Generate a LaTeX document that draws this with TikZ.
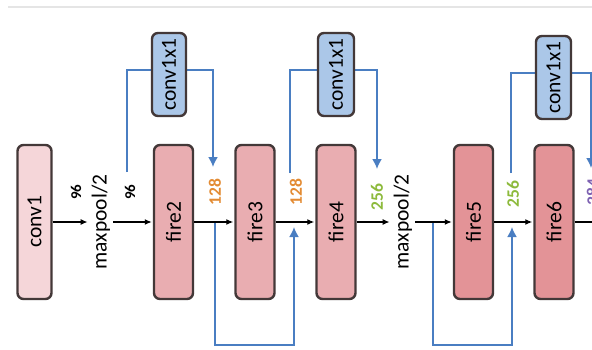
\documentclass[tikz,border=0pt]{standalone}
\usepackage{fontspec}
\setmainfont{Carlito}
\usetikzlibrary{arrows.meta,backgrounds}
\definecolor{bordc}{HTML}{433838}
\definecolor{cone}{HTML}{F5D6D9}
\definecolor{cfire}{HTML}{E9ADB1}
\definecolor{cfirex}{HTML}{E39397}
\definecolor{cblue}{HTML}{ABC7E8}
\definecolor{lblue}{HTML}{4A7EC2}
\definecolor{corange}{HTML}{E38B33}
\definecolor{cgreen}{HTML}{8DBA3C}
\definecolor{cpurple}{HTML}{7E62B2}
\begin{document}
\begin{tikzpicture}[x=1pt,y=-1pt,
  blk/.style={draw=bordc, line width=2.4pt, rounded corners=6pt, inner sep=0pt,
    rotate=90, font=\fontsize{21.5}{24}\selectfont},
  mainblk/.style={blk, minimum width=154pt, minimum height=39pt},
  cxblk/.style={blk, fill=cblue, minimum width=83pt, minimum height=34pt},
  mp/.style={rotate=90, inner sep=3pt, font=\fontsize{21.5}{24}\selectfont},
  num/.style={rotate=90, inner sep=1pt, font=\bfseries\fontsize{15}{17}\selectfont},
  cnum/.style={rotate=90, inner sep=1pt, font=\bfseries\fontsize{17.5}{19}\selectfont},
  ar/.style={line width=1.3pt, -{Latex[length=7pt,width=6pt]}, shorten >=1pt},
  bl/.style={draw=lblue, line width=1.8pt},
  bla/.style={bl, -{Latex[length=10pt,width=10pt]}}
]
\useasboundingbox (0,0) rectangle (592,349);
\draw[black!10, line width=2pt] (8,7) -- (592,7);

% main blocks
\node[mainblk, fill=cone, minimum height=34pt] (conv1) at (34.5,222) {conv1};
\node[mainblk, fill=cfire] (fire2) at (173.5,222) {fire2};
\node[mainblk, fill=cfire] (fire3) at (255,222) {fire3};
\node[mainblk, fill=cfire] (fire4) at (336,222) {fire4};
\node[mainblk, fill=cfirex] (fire5) at (473.5,222) {fire5};
\node[mainblk, fill=cfirex] (fire6) at (554,222) {fire6};

% conv1x1 blocks
\node[cxblk] (cx1) at (169,74.5) {conv1x1};
\node[cxblk, minimum height=36pt] (cx2) at (336,74.5) {conv1x1};
\node[cxblk, minimum height=35pt] (cx3) at (553.5,77.5) {conv1x1};

% maxpool labels
\node[mp] (mp1) at (101,222) {maxpool/2};
\node[mp] (mp2) at (403,222) {maxpool/2};

% channel numbers
\node[num] (n96a) at (76,192) {96};
\node[num] (n96b) at (130,192) {96};
\node[cnum, text=corange] (l128a) at (215,192) {128};
\node[cnum, text=corange] (l128b) at (296,192) {128};
\node[cnum, text=cgreen] (l256a) at (377,197) {256};
\node[cnum, text=cgreen] (l256b) at (513,194) {256};
\node[cnum, text=cpurple] (l384) at (593,192) {384};

% coordinates for connectors
\coordinate (b1s) at (127,172);
\coordinate (b1e) at (213,167);
\coordinate (b2s) at (290,173);
\coordinate (b2e) at (377,169);
\coordinate (b3s) at (511,173);
\coordinate (b3e) at (591,168);
\coordinate (p1s) at (215,222);
\coordinate (p1e) at (294,227);
\coordinate (p2s) at (433,222);
\coordinate (p2e) at (512,227);
\coordinate (endr) at (592,222);

% black main connectors
\draw[ar] (conv1) -- (mp1);
\draw[ar] (mp1) -- (fire2);
\draw[ar] (fire2) -- (fire3);
\draw[ar] (fire3) -- (fire4);
\draw[ar] (fire4) -- (mp2);
\draw[ar] (mp2) -- (fire5);
\draw[ar] (fire5) -- (fire6);
\draw[line width=1.3pt] (fire6) -- (endr);

% blue bypasses
\begin{scope}[on background layer]
\draw[bla] (b1s) -- ++(0,-102) -| (b1e);
\draw[bla] (b2s) -- ++(0,-103) -| (b2e);
\draw[bla] (b3s) -- ++(0,-100) -| (b3e);
\draw[bla] (p1s) -- ++(0,123) -| (p1e);
\draw[bla] (p2s) -- ++(0,123) -| (p2e);
\end{scope}
\end{tikzpicture}
\end{document}
